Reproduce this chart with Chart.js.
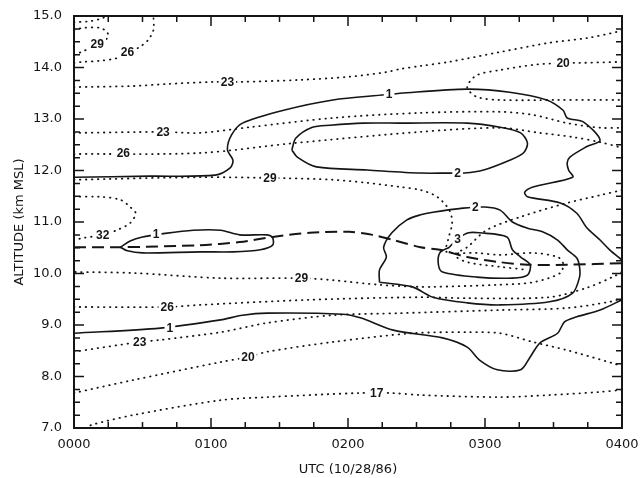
<!DOCTYPE html>
<html>
<head>
<meta charset="utf-8">
<script src="https://cdn.jsdelivr.net/npm/chart.js@4/dist/chart.umd.min.js"></script>
<style>
  body{margin:0;background:#fff;}
  canvas{display:block;}
</style>
</head>
<body>
<canvas id="chart" width="642" height="478"></canvas>
<script>
//----- axis ticks -----//
const hourTicks = [0, 1, 2, 3, 4];          // shown as 0000 ... 0400
const altTicks  = [7, 8, 9, 10, 11, 12, 13, 14, 15];

//----- solid contours (1, 2, 3) : [UTC hour, km] -----//
const solid1Upper = [[0,11.87],[0.55,11.89],[1.03,11.91],[1.14,12.05],[1.16,12.20],[1.12,12.40],[1.15,12.69],[1.23,12.92],[1.53,13.17],[1.89,13.37],[2.27,13.47],[2.38,13.50],[2.87,13.58],[3.18,13.52],[3.45,13.37],[3.57,13.17],[3.60,13.02],[3.72,12.94],[3.84,12.59],[3.74,12.46],[3.62,12.26],[3.60,12.15],[3.61,12.01],[3.64,11.87],[3.35,11.68],[3.29,11.58],[3.31,11.49],[3.55,11.37],[3.67,11.17],[3.74,10.90],[3.84,10.65],[3.91,10.46],[4.0,10.26]];
const solid1Lower = [[0,8.84],[0.63,8.94],[1.07,9.10],[1.23,9.19],[1.41,9.23],[1.96,9.21],[2.09,9.14],[2.33,8.90],[2.69,8.75],[2.87,8.57],[2.96,8.32],[3.09,8.13],[3.26,8.13],[3.33,8.38],[3.40,8.65],[3.53,8.84],[3.58,9.06],[3.67,9.16],[3.84,9.29],[4.0,9.49]];
const solid1Small = [[0.34,10.51],[0.41,10.63],[0.50,10.71],[0.64,10.77],[0.87,10.84],[1.07,10.84],[1.21,10.75],[1.41,10.75],[1.45,10.69],[1.45,10.55],[1.36,10.46],[1.16,10.42],[0.92,10.42],[0.50,10.40],[0.39,10.44],[0.34,10.51]];
const solid2Upper = [[1.59,12.40],[1.62,12.63],[1.74,12.84],[1.87,12.88],[2.11,12.92],[2.38,12.92],[2.87,12.92],[3.11,12.84],[3.26,12.73],[3.31,12.53],[3.28,12.34],[3.18,12.20],[2.99,12.01],[2.85,11.95],[2.74,11.95],[2.53,11.95],[2.14,12.01],[1.77,12.07],[1.63,12.26],[1.59,12.40]];
const solid2Lower = [[2.23,9.83],[2.23,10.07],[2.28,10.32],[2.26,10.51],[2.32,10.79],[2.43,11.04],[2.53,11.14],[2.62,11.19],[2.84,11.27],[3.00,11.29],[3.11,11.23],[3.20,11.00],[3.31,10.88],[3.42,10.81],[3.53,10.65],[3.60,10.46],[3.67,10.30],[3.69,10.13],[3.69,9.93],[3.64,9.62],[3.47,9.45],[3.11,9.39],[2.87,9.43],[2.62,9.54],[2.47,9.74],[2.23,9.83]];
const solid3 = [[2.74,10.51],[2.67,10.40],[2.66,10.17],[2.69,10.03],[2.94,9.93],[3.20,9.91],[3.31,9.97],[3.33,10.17],[3.26,10.32],[3.20,10.46],[3.16,10.71],[2.96,10.79],[2.88,10.79],[2.80,10.67],[2.74,10.51]];

//----- dashed line -----//
const dashedLine = [[0,10.51],[0.34,10.51],[0.92,10.55],[1.21,10.61],[1.45,10.71],[1.72,10.79],[2.01,10.81],[2.18,10.75],[2.33,10.65],[2.53,10.51],[2.67,10.46],[2.87,10.32],[3.11,10.22],[3.31,10.17],[3.60,10.17],[4.0,10.20]];

//----- dotted contours (17 ... 32) -----//
const dotTopCorner = [[0,14.88],[0.12,14.90],[0.21,14.96],[0.23,15.0]];
const dot29Top = [[0,14.73],[0.07,14.77],[0.19,14.77],[0.24,14.69],[0.25,14.59],[0.17,14.44],[0.07,14.32],[0,14.24]];
const dot26Top = [[0,14.09],[0.07,14.11],[0.19,14.13],[0.31,14.18],[0.39,14.28],[0.48,14.40],[0.54,14.53],[0.58,14.73],[0.58,15.0]];
const dot23Top = [[0,13.62],[0.43,13.64],[0.68,13.68],[1.01,13.72],[1.21,13.72],[1.65,13.76],[2.01,13.82],[2.28,13.91],[2.38,13.97],[2.53,14.03],[2.74,14.11],[3.11,14.30],[3.47,14.48],[3.74,14.57],[3.96,14.69],[4.0,14.73]];
const dot20Top = [[4.0,14.11],[3.69,14.09],[3.57,14.09],[3.35,14.05],[3.11,13.95],[2.94,13.85],[2.87,13.62],[2.94,13.43],[3.11,13.37],[3.53,13.37],[4.0,13.37]];
const dot23Mid = [[0,12.73],[0.65,12.75],[0.92,12.73],[1.28,12.84],[1.89,13.02],[2.53,13.12],[3.11,13.14],[3.35,13.08],[3.60,12.92],[3.84,12.83],[4.0,12.83]];
const dot26Mid = [[0,12.32],[0.92,12.34],[1.60,12.53],[2.53,12.75],[3.11,12.83],[3.40,12.73],[3.64,12.65],[3.84,12.55],[4.0,12.44]];
const dot29Loop = [[0,11.82],[0.92,11.87],[1.55,11.85],[1.89,11.82],[2.14,11.76],[2.38,11.68],[2.53,11.62],[2.65,11.49],[2.74,11.23],[2.76,10.98],[2.73,10.65],[2.72,10.42],[2.94,10.40],[3.11,10.36],[3.35,10.40],[3.53,10.32],[3.57,10.20],[3.55,10.01],[3.35,9.83],[3.09,9.78],[2.62,9.74],[2.53,9.74],[2.23,9.78],[1.89,9.87],[1.66,9.91],[1.07,9.91],[0.43,10.01],[0,10.03]];
const dot32Left = [[0,11.49],[0.19,11.49],[0.34,11.43],[0.41,11.29],[0.45,11.17],[0.41,10.98],[0.31,10.84],[0.21,10.75],[0.07,10.69],[0,10.65]];
const dotCore = [[4.0,11.62],[3.84,11.52],[3.60,11.37],[3.26,11.10],[3.01,10.84],[2.87,10.51],[2.78,10.36],[2.87,10.22],[3.11,10.13],[3.31,10.07]];
const dot26Low = [[0,9.35],[0.68,9.35],[0.92,9.39],[1.72,9.49],[2.53,9.54],[2.87,9.52],[3.47,9.54],[3.74,9.72],[3.93,9.93],[4.0,10.03]];
const dot23Low = [[0,8.48],[0.48,8.67],[0.63,8.71],[1.07,8.86],[1.41,9.04],[1.89,9.19],[2.38,9.23],[3.11,9.29],[3.60,9.33],[3.91,9.45],[4.0,9.52]];
const dot20Low = [[0,7.68],[0.43,7.93],[1.07,8.28],[1.27,8.38],[1.41,8.48],[1.89,8.67],[2.47,8.84],[2.87,8.86],[3.11,8.84],[3.35,8.67],[3.60,8.51],[3.93,8.26],[4.0,8.20]];
const dot17 = [[0.08,7.0],[0.14,7.07],[0.43,7.25],[1.07,7.54],[1.41,7.60],[2.09,7.68],[2.31,7.68],[2.53,7.64],[3.11,7.60],[3.47,7.64],[3.84,7.70],[4.0,7.74]];

//----- contour labels : [text, hour, km] -----//
const contourLabels = [
  ['29',0.17,14.46],['26',0.39,14.30],['23',1.12,13.72],['20',3.57,14.09],
  ['1',2.30,13.48],['23',0.65,12.75],['26',0.36,12.34],['2',2.80,11.95],
  ['29',1.43,11.85],['2',2.93,11.28],['32',0.21,10.75],['1',0.60,10.76],
  ['3',2.80,10.67],['29',1.66,9.91],['26',0.68,9.35],['1',0.70,8.94],
  ['23',0.48,8.67],['20',1.27,8.38],['17',2.21,7.68]
];

//----- styles -----//
const ink = '#151515';
function toPts(arr){ return arr.map(p => ({x:p[0], y:p[1]})); }
function solid(arr){ return {data:toPts(arr), showLine:true, pointRadius:0, borderColor:ink, borderWidth:1.6, tension:0.3, fill:false}; }
function dotted(arr){ return {data:toPts(arr), showLine:true, pointRadius:0, borderColor:ink, borderWidth:1.8, borderDash:[0.5,5.5], borderCapStyle:'round', tension:0.3, fill:false}; }

let datasets = [];
[dotTopCorner,dot29Top,dot26Top,dot23Top,dot20Top,dot23Mid,dot26Mid,dot29Loop,dot32Left,dotCore,dot26Low,dot23Low,dot20Low,dot17].forEach(a => datasets.push(dotted(a)));
[solid1Upper,solid1Lower,solid1Small,solid2Upper,solid2Lower,solid3].forEach(a => datasets.push(solid(a)));
datasets.push({data:toPts(dashedLine), showLine:true, pointRadius:0, borderColor:ink, borderWidth:2, borderDash:[12,6], tension:0.3, fill:false});

//----- frame, inner ticks and contour labels -----//
const framePlugin = {
  id:'frame',
  afterDatasetsDraw(chart){
    const c = chart.ctx, a = chart.chartArea;
    const xs = chart.scales.x, ys = chart.scales.y;
    c.save();
    // labels with white background (breaks the contour)
    c.font = 'bold 12px "Liberation Sans", Arial, sans-serif';
    c.textAlign = 'center';
    c.textBaseline = 'middle';
    contourLabels.forEach(l => {
      const px = xs.getPixelForValue(l[1]), py = ys.getPixelForValue(l[2]);
      const w = c.measureText(l[0]).width;
      c.fillStyle = '#fff';
      c.fillRect(px - w/2 - 2, py - 6, w + 4, 12);
      c.fillStyle = ink;
      c.fillText(l[0], px, py + 0.5);
    });
    // ticks pointing inward
    c.strokeStyle = ink;
    c.lineWidth = 1.5;
    c.beginPath();
    for (let i = 0; i <= 16; i++){
      const v = i/4, px = xs.getPixelForValue(v), len = (i % 4 === 0) ? 10 : 6;
      c.moveTo(px, a.bottom); c.lineTo(px, a.bottom - len);
      c.moveTo(px, a.top);    c.lineTo(px, a.top + len);
    }
    for (let i = 0; i <= 32; i++){
      const v = 7 + i/4, py = ys.getPixelForValue(v), len = (i % 4 === 0) ? 10 : 6;
      c.moveTo(a.left, py);  c.lineTo(a.left + len, py);
      c.moveTo(a.right, py); c.lineTo(a.right - len, py);
    }
    c.stroke();
    // frame
    c.lineWidth = 2;
    c.strokeRect(a.left, a.top, a.right - a.left, a.bottom - a.top);
    c.restore();
  }
};

const tickFont = {family:'"DejaVu Sans", sans-serif', size:13};

new Chart(document.getElementById('chart'), {
  type:'scatter',
  data:{datasets:datasets},
  options:{
    responsive:false,
    animation:false,
    layout:{padding:{top:16, right:20, left:0, bottom:0}},
    plugins:{legend:{display:false}, tooltip:{enabled:false}},
    scales:{
      x:{
        type:'linear', min:0, max:4,
        grid:{display:false, drawTicks:false},
        border:{display:false},
        afterBuildTicks: s => { s.ticks = hourTicks.map(v => ({value:v})); },
        ticks:{padding:9, color:ink, font:tickFont, maxRotation:0, autoSkip:false,
               callback: v => '0' + v + '00'},
        title:{display:true, text:'UTC (10/28/86)', color:ink, font:tickFont, padding:{top:0, bottom:1}},
        afterFit: s => { s.height = 50; s.paddingLeft = 0; s.paddingRight = 0; }
      },
      y:{
        type:'linear', min:7, max:15,
        grid:{display:false, drawTicks:false},
        border:{display:false},
        afterBuildTicks: s => { s.ticks = altTicks.map(v => ({value:v})); },
        ticks:{padding:12, color:ink, font:tickFont, callback: v => v.toFixed(1)},
        title:{display:true, text:'ALTITUDE (km MSL)', color:ink, font:tickFont, padding:{top:12, bottom:0}},
        afterFit: s => { s.width = 74; s.paddingTop = 0; s.paddingBottom = 0; }
      }
    }
  },
  plugins:[framePlugin]
});
</script>
</body>
</html>
